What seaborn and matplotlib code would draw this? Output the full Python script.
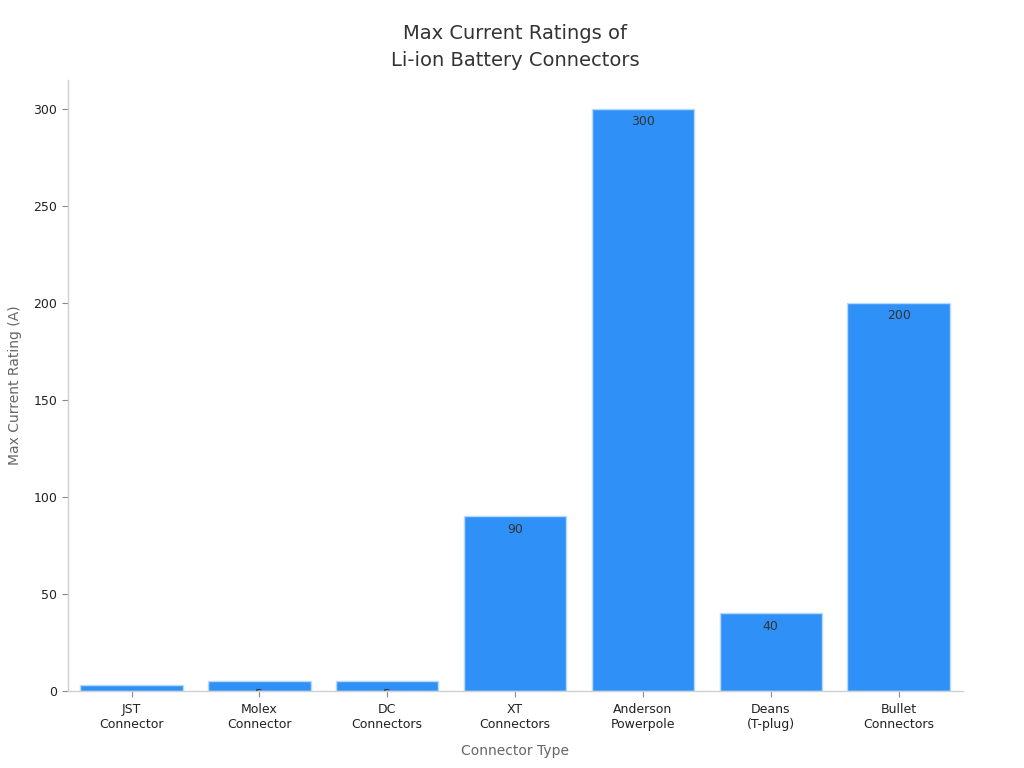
import pandas as pd
import matplotlib
matplotlib.use('Agg')
import matplotlib.pyplot as plt
import seaborn as sns

# Chart data
connectors = ['JST\nConnector', 'Molex\nConnector', 'DC\nConnectors', 'XT\nConnectors',
              'Anderson\nPowerpole', 'Deans\n(T-plug)', 'Bullet\nConnectors']
max_current = [3, 5, 5, 90, 300, 40, 200]

df = pd.DataFrame({'connector': connectors, 'current': max_current})

sns.set_theme(style='white')
plt.rcParams['font.family'] = ['DejaVu Sans']

fig = plt.figure(figsize=(10.24, 7.68), dpi=100)
ax = fig.add_axes([0.066, 0.1003, 0.874, 0.7957])

sns.barplot(data=df, x='connector', y='current', color='#2f91f7', saturation=1,
            width=0.8, edgecolor='#b9d9fb', linewidth=1, ax=ax)

# value labels, placed just under the top of each bar and clipped to it
for bar, val in zip(ax.patches, max_current):
    t = ax.annotate(f'{val}', (bar.get_x() + bar.get_width() / 2, bar.get_height()),
                    xytext=(0, -4.5), textcoords='offset points', ha='center', va='top',
                    fontsize=9, color='#333333')
    t.set_clip_on(True)
    t.set_clip_path(bar)

ax.set_ylim(0, 315)
ax.set_xlim(-0.5, 6.5)
ax.set_yticks([0, 50, 100, 150, 200, 250, 300])

for side in ['top', 'right']:
    ax.spines[side].set_visible(False)
for side in ['left', 'bottom']:
    ax.spines[side].set_color('#d0d0d0')
    ax.spines[side].set_linewidth(1)

ax.tick_params(axis='both', which='both', length=4, width=0.8, color='#888888',
               labelsize=9, labelcolor='#222222', bottom=True, left=True)
ax.tick_params(axis='x', pad=5)

ax.set_xlabel('Connector Type', fontsize=10, color='#666666', labelpad=9)
ax.set_ylabel('Max Current Rating (A)', fontsize=10, color='#666666', labelpad=8)
ax.set_title('Max Current Ratings of\nLi-ion Battery Connectors', fontsize=14,
             color='#333333', pad=10, linespacing=1.55)

fig.savefig('out.png', dpi=100)
